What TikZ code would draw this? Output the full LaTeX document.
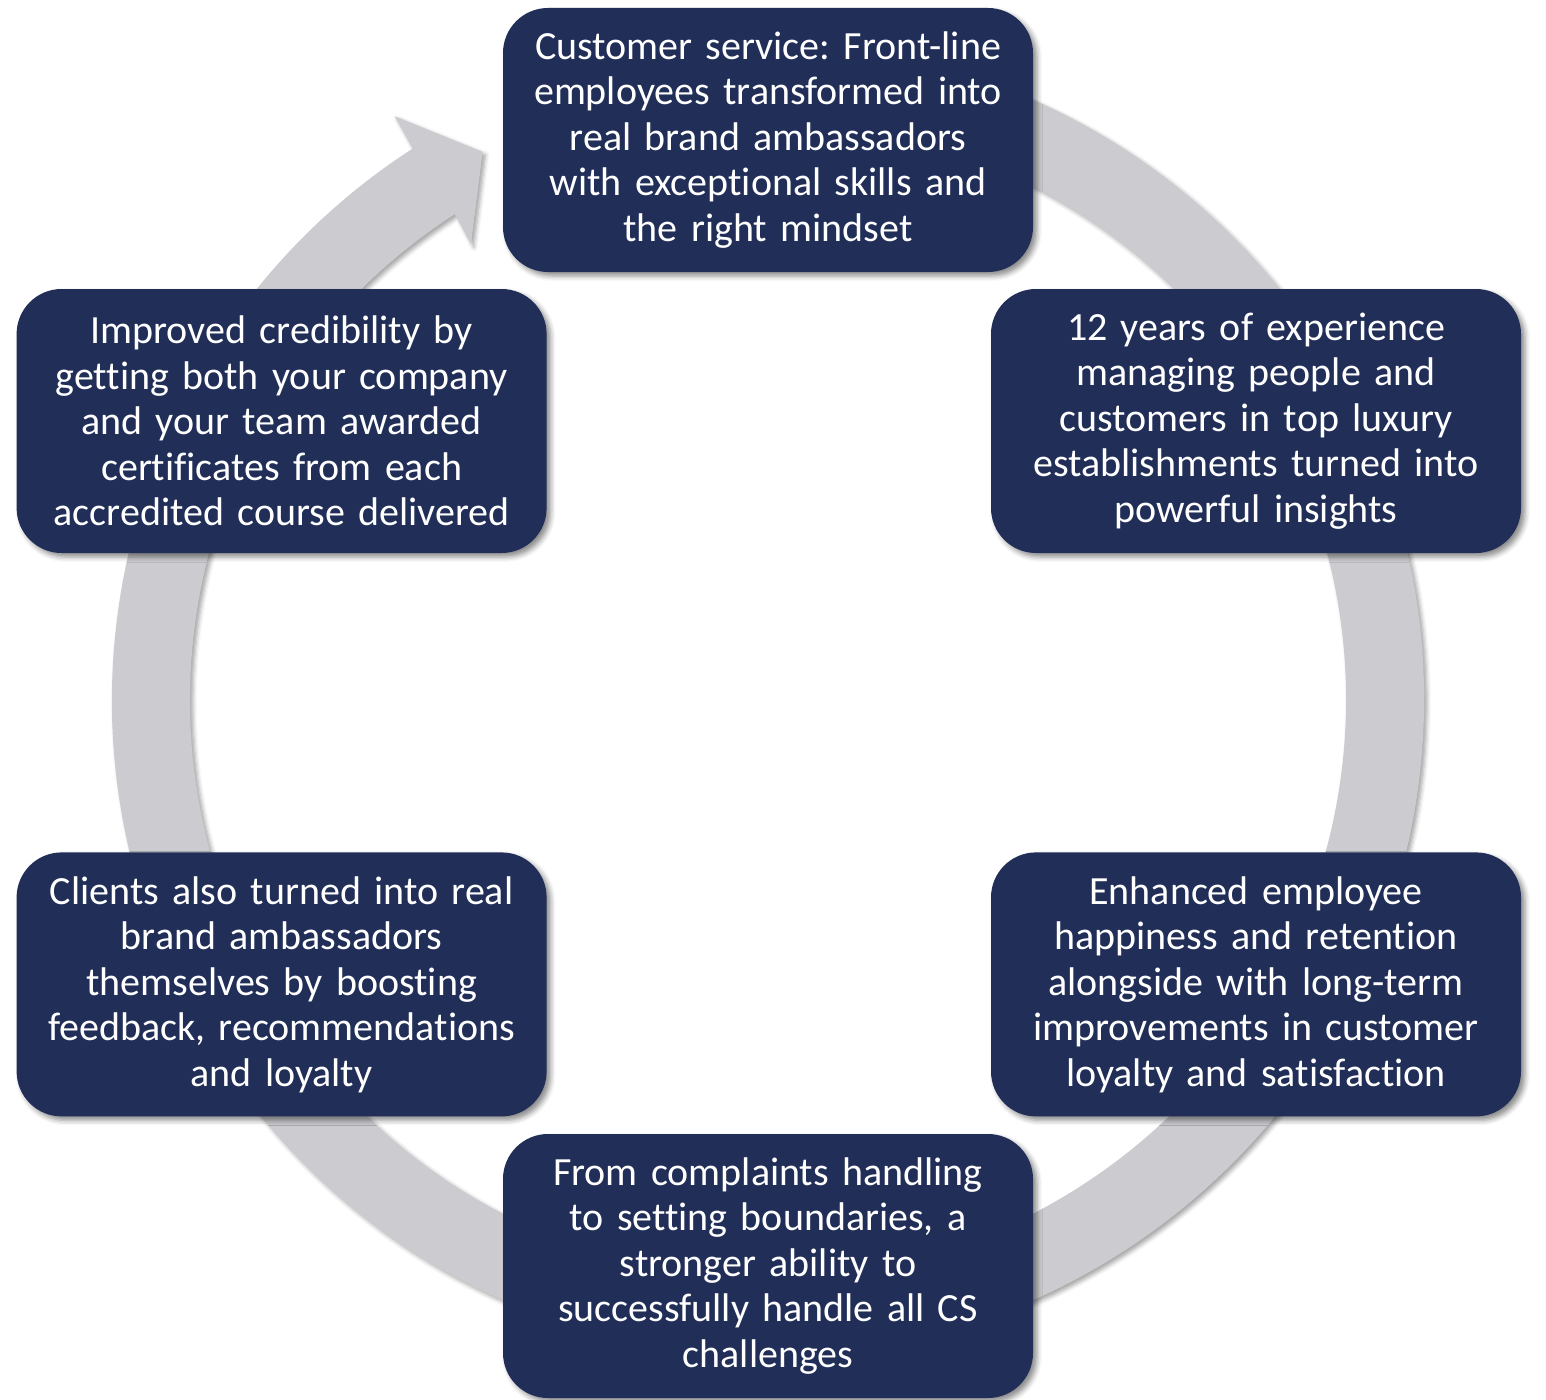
\documentclass[tikz,border=0pt]{standalone}
\usepackage{fontspec}
\setmainfont{Carlito}[Ligatures=NoCommon]
\usepackage{xcolor}
\usepackage{tikz}
\usetikzlibrary{positioning, shadows.blur}
\definecolor{navybox}{RGB}{33,46,88}
\definecolor{ringgray}{RGB}{204,204,208}
\frenchspacing

\begin{document}
\begin{tikzpicture}[x=1pt, y=1pt,
  box/.style={rectangle, rounded corners=45pt, fill=navybox, draw=none,
              minimum width=530pt, minimum height=264pt, text width=515pt,
              inner sep=0pt, align=center, text=white,
              font=\fontsize{40}{45.5}\selectfont,
              blur shadow={shadow xshift=4pt, shadow yshift=-4pt,
                           shadow blur radius=5pt, shadow opacity=45}},
  ring/.style={fill=ringgray, draw=none,
               blur shadow={shadow xshift=3pt, shadow yshift=-3pt,
                            shadow blur radius=4pt, shadow opacity=35}}
]
\useasboundingbox (0,0) rectangle (1546,-1399);

% Cycle ring with arrow head
\coordinate (c) at (768,-700);
\fill[ring] ([shift={(80:656)}]c) arc[start angle=80, end angle=-237.2, radius=656]
  -- ([shift={(122.6:693)}]c) -- ([shift={(117.5:618)}]c)
  -- ([shift={(123.1:544)}]c)
  -- ([shift={(122.8:578)}]c) arc[start angle=-237.2, end angle=80, radius=578]
  -- cycle;

% Top
\node[box] (service) at (768,-140) {Customer service: Front-line\\employees transformed into\\real brand ambassadors\\with exceptional skills and\\the right mindset};

% Upper row
\node[box] (insight) at (1256,-421) {12 years of experience\\managing people and\\customers in top luxury\\establishments turned into\\powerful insights};
\node[box, left=444pt of insight] (credit) {Improved credibility by\\getting both your company\\and your team awarded\\certificates from each\\accredited course delivered};

% Lower row
\node[box, below=299pt of insight] (happy) {Enhanced employee\\happiness and retention\\alongside with long-term\\improvements in customer\\loyalty and satisfaction};
\node[box, below=299pt of credit] (clients) {Clients also turned into real\\brand ambassadors\\themselves by boosting\\feedback, recommendations\\and loyalty};

% Bottom
\node[box] (complaint) at (768,-1266) {From complaints handling\\to setting boundaries, a\\stronger ability to\\successfully handle all CS\\challenges};
\end{tikzpicture}
\end{document}
